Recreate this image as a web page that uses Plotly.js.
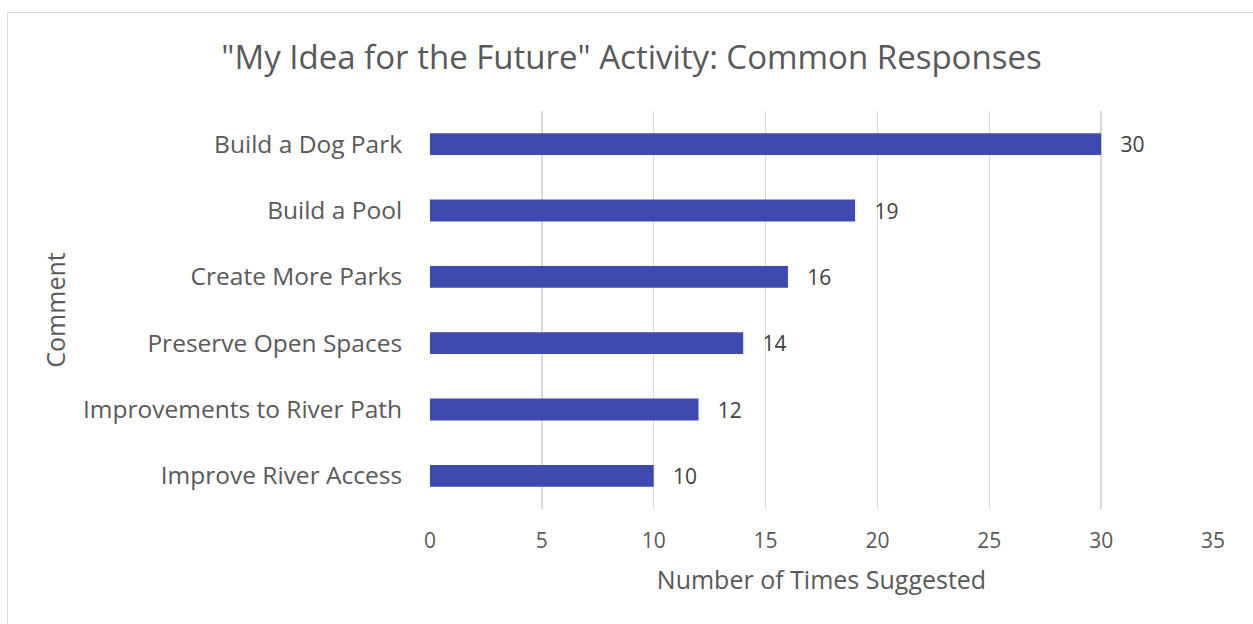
<!DOCTYPE html>
<html>
<head>
<meta charset="utf-8">
<script src="https://cdn.plot.ly/plotly-3.0.1.min.js"></script>
<style>
html,body{margin:0;padding:0;background:#fff;overflow:hidden;}
#wrap{position:relative;width:1253px;height:624px;}
#chart{position:absolute;left:0;top:0;width:1253px;height:624px;}
#frame{position:absolute;left:7px;top:12px;width:1260px;height:630px;border:1px solid #d9d9d9;pointer-events:none;}
</style>
</head>
<body>
<div id="wrap"><div id="chart"></div><div id="frame"></div></div>
<script>
const categories = ["Build a Dog Park","Build a Pool","Create More Parks","Preserve Open Spaces","Improvements to River Path","Improve River Access"];
const counts = [30, 19, 16, 14, 12, 10];
const xTicks = [0, 5, 10, 15, 20, 25, 30, 35];

const FONT = '"Open Sans", "Noto Sans", sans-serif';

const trace = {
  type: 'bar',
  orientation: 'h',
  y: categories,
  x: counts,
  marker: {color: '#3F4AB1'},
  text: counts.map(v => '\u00a0\u00a0\u00a0' + v),
  textposition: 'outside',
  constraintext: 'none',
  cliponaxis: false,
  textfont: {family: FONT, size: 21, color: '#404040'},
  hoverinfo: 'none'
};

const layout = {
  width: 1253, height: 624,
  margin: {l: 430, r: 40, t: 111, b: 115},
  paper_bgcolor: 'rgba(0,0,0,0)',
  plot_bgcolor: 'rgba(0,0,0,0)',
  bargap: 0.67,
  showlegend: false,
  title: {
    text: '"My Idea for the Future" Activity: Common Responses',
    font: {family: FONT, size: 33, color: '#595959'},
    x: 0.504, xanchor: 'center', y: 0.908, yanchor: 'middle'
  },
  xaxis: {
    range: [0, 35],
    tickvals: xTicks,
    ticktext: xTicks.map(String),
    showgrid: true, gridcolor: '#d9d9d9', gridwidth: 1.3,
    zeroline: false, showline: false,
    ticks: 'outside', ticklen: 13, tickcolor: 'rgba(0,0,0,0)',
    tickfont: {family: FONT, size: 21, color: '#595959'},
    title: {text: 'Number of Times Suggested', font: {family: FONT, size: 25, color: '#595959'}, standoff: 18},
    fixedrange: true
  },
  yaxis: {
    autorange: 'reversed',
    showgrid: false, zeroline: false, showline: false,
    ticks: 'outside', ticklen: 22, tickcolor: 'rgba(0,0,0,0)',
    tickfont: {family: FONT, size: 24.5, color: '#595959'},
    title: {text: 'Comment', font: {family: FONT, size: 25, color: '#595959'}, standoff: 10},
    fixedrange: true
  }
};

Plotly.newPlot('chart', [trace], layout, {displayModeBar: false, staticPlot: true});
</script>
</body>
</html>
